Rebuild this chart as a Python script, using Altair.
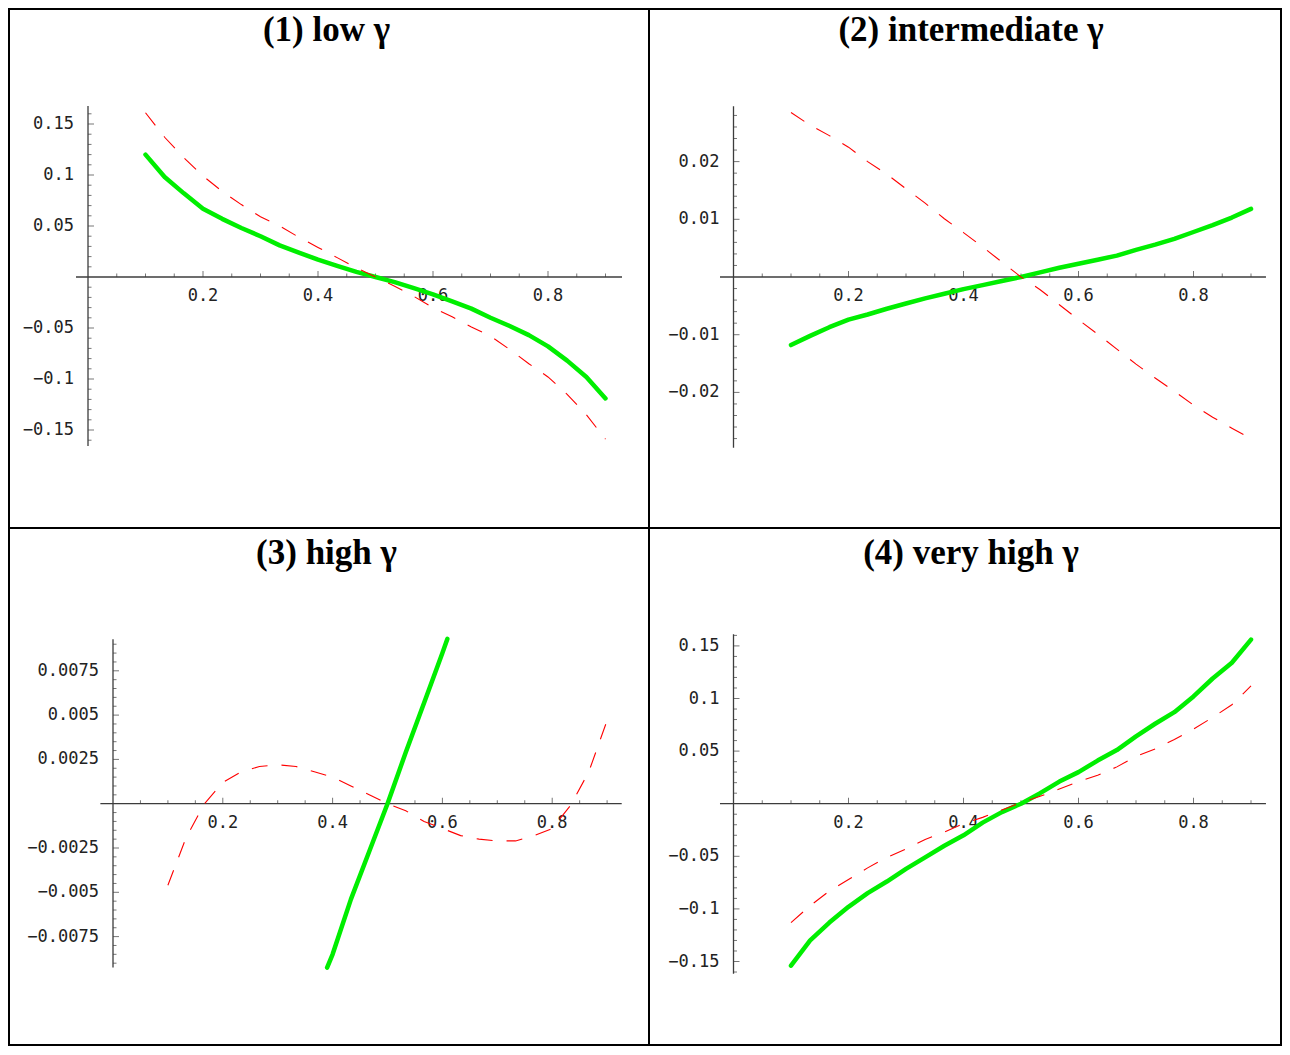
import altair as alt
import pandas as pd

# ---------------- data ----------------
X = [0.1, 0.1333, 0.1667, 0.2, 0.2333, 0.2667, 0.3, 0.3333, 0.3667, 0.4, 0.4333, 0.4667, 0.5,
     0.5333, 0.5667, 0.6, 0.6333, 0.6667, 0.7, 0.7333, 0.7667, 0.8, 0.8333, 0.8667, 0.9]

P1_GREEN = [0.120, 0.098, 0.082, 0.067, 0.057, 0.048, 0.040, 0.031, 0.024, 0.017, 0.011, 0.005, 0.0,
            -0.005, -0.011, -0.017, -0.024, -0.031, -0.040, -0.048, -0.057, -0.068, -0.082, -0.098, -0.119]
P1_RED = [0.161, 0.137, 0.117, 0.099, 0.084, 0.071, 0.059, 0.050, 0.039, 0.029, 0.019, 0.009, 0.0,
          -0.009, -0.019, -0.030, -0.039, -0.049, -0.058, -0.071, -0.085, -0.098, -0.115, -0.135, -0.159]

P2_GREEN = [-0.0118, -0.0102, -0.0087, -0.0074, -0.0065, -0.0055, -0.0046, -0.0037, -0.0029, -0.0021,
            -0.0014, -0.0007, 0.0, 0.0008, 0.0016, 0.0023, 0.0030, 0.0037, 0.0047, 0.0056, 0.0066,
            0.0078, 0.0090, 0.0103, 0.0118]
P2_RED = [0.0285, 0.0263, 0.0245, 0.0225, 0.0200, 0.0178, 0.0153, 0.0128, 0.0101, 0.0077, 0.0052,
          0.0026, 0.0, -0.0022, -0.0048, -0.0074, -0.0099, -0.0125, -0.0151, -0.0175, -0.0198,
          -0.0222, -0.0243, -0.0262, -0.0280]

P3_GREEN_X = [0.39, 0.4, 0.4333, 0.4667, 0.5, 0.5333, 0.5667, 0.6, 0.609]
P3_GREEN = [-0.00925, -0.0085, -0.0054, -0.0027, 0.0, 0.0029, 0.0057, 0.0085, 0.0093]
P3_RED = [-0.0046, -0.0019, 0.0000, 0.0012, 0.0018, 0.0021, 0.0022, 0.0021, 0.0018, 0.0015, 0.0010,
          0.0005, 0.0, -0.0004, -0.0010, -0.0014, -0.0018, -0.0020, -0.0021, -0.0021, -0.0018,
          -0.0014, -0.0001, 0.0018, 0.0047]

P4_GREEN = [-0.154, -0.130, -0.113, -0.098, -0.085, -0.074, -0.062, -0.051, -0.040, -0.030, -0.018,
            -0.008, 0.0, 0.010, 0.021, 0.030, 0.041, 0.051, 0.064, 0.076, 0.087, 0.102, 0.119, 0.134, 0.156]
P4_RED = [-0.113, -0.097, -0.083, -0.072, -0.061, -0.051, -0.043, -0.034, -0.027, -0.019, -0.013,
          -0.006, 0.001, 0.007, 0.014, 0.021, 0.027, 0.035, 0.045, 0.052, 0.061, 0.071, 0.082, 0.094, 0.112]

TITLES = ["(1) low \u03b3", "(2) intermediate \u03b3", "(3) high \u03b3", "(4) very high \u03b3"]

X_TICKS = [0.2, 0.4, 0.6, 0.8]
X_LABELS = ["0.2", "0.4", "0.6", "0.8"]
Y1_TICKS = [-0.15, -0.1, -0.05, 0.05, 0.1, 0.15]
Y1_LABELS = ["\u22120.15", "\u22120.1", "\u22120.05", "0.05", "0.1", "0.15"]
Y2_TICKS = [-0.02, -0.01, 0.01, 0.02]
Y2_LABELS = ["\u22120.02", "\u22120.01", "0.01", "0.02"]
Y3_TICKS = [-0.0075, -0.005, -0.0025, 0.0025, 0.005, 0.0075]
Y3_LABELS = ["\u22120.0075", "\u22120.005", "\u22120.0025", "0.0025", "0.005", "0.0075"]

# plot ranges (axis extents) per panel: xmin, xmax, ymin, ymax
RANGES = [
    (-0.0209, 0.9287, -0.1657, 0.1676),
    (-0.0235, 0.926, -0.0296, 0.0296),
    (-0.023, 0.9266, -0.00925, 0.00928),
    (-0.0235, 0.926, -0.1616, 0.161),
]


def minor(step, kmax):
    return [round(k * step, 6) for k in range(-kmax, kmax + 1) if k % 5 != 0]


X_MINOR = [round(k * 0.05, 4) for k in range(1, 19) if k % 4 != 0]

# ---------------- style ----------------
FONT_T = "Liberation Serif"
FONT_L = "DejaVu Sans Mono"
AXC = "#3c3c3c"
GREEN = "#00ee00"
RED = "#ff0000"

# cells: left, top, width, height (page pixels); calib: x0px, px/unit x, y0px, px/unit y
CELLS = [(8, 8, 640, 519), (648, 8, 632, 519), (8, 527, 640, 517), (648, 527, 632, 517)]
CALIB = [(87, 575, 276, 1020), (732.5, 575, 276, 5770), (112, 549, 802.7, 17720), (732.5, 575, 802.7, 1052)]
TITLE_POS = [(325.5, 40), (970, 40), (325.5, 563), (970, 563)]


def make_panel(i, gx, gy, rx, ry, yt, ytl, ymin):
    left, top, W, H = CELLS[i]
    X0, sx, Y0, sy = CALIB[i]
    xr0, xr1, yr0, yr1 = RANGES[i]
    xs = alt.Scale(domain=[(left - X0) / sx, (left + W - X0) / sx], nice=False, zero=False)
    ys = alt.Scale(domain=[(Y0 - (top + H)) / sy, (Y0 - top) / sy], nice=False, zero=False)

    def ex(col="x"):
        return alt.X(f"{col}:Q", scale=xs, axis=None)

    def ey(col="y"):
        return alt.Y(f"{col}:Q", scale=ys, axis=None)

    xaxis = alt.Chart(pd.DataFrame({"x": [xr0], "x2": [xr1], "y": [0.0]})).mark_rule(
        color=AXC, strokeWidth=1.3).encode(x=ex(), x2="x2:Q", y=ey())
    yaxis = alt.Chart(pd.DataFrame({"x": [0.0], "y": [yr0], "y2": [yr1]})).mark_rule(
        color=AXC, strokeWidth=1.3).encode(x=ex(), y=ey(), y2="y2:Q")

    xmaj = alt.Chart(pd.DataFrame({"x": X_TICKS, "y": [0.0] * len(X_TICKS)})).mark_tick(
        orient="vertical", size=6, thickness=1, yOffset=-3, color=AXC).encode(x=ex(), y=ey())
    xmin_ = alt.Chart(pd.DataFrame({"x": X_MINOR, "y": [0.0] * len(X_MINOR)})).mark_tick(
        orient="vertical", size=3.5, thickness=1, yOffset=-1.75, color=AXC).encode(x=ex(), y=ey())
    ymaj = alt.Chart(pd.DataFrame({"x": [0.0] * len(yt), "y": yt})).mark_tick(
        orient="horizontal", size=6, thickness=1, xOffset=3, color=AXC).encode(x=ex(), y=ey())
    ymin_c = alt.Chart(pd.DataFrame({"x": [0.0] * len(ymin), "y": ymin})).mark_tick(
        orient="horizontal", size=3.5, thickness=1, xOffset=1.75, color=AXC).encode(x=ex(), y=ey())

    xlab = alt.Chart(pd.DataFrame({"x": X_TICKS, "y": [0.0] * len(X_TICKS), "t": X_LABELS})).mark_text(
        font=FONT_L, fontSize=17, dy=19, align="center", baseline="middle", color="#222222"
    ).encode(x=ex(), y=ey(), text="t:N")
    ylab = alt.Chart(pd.DataFrame({"x": [0.0] * len(yt), "y": yt, "t": ytl})).mark_text(
        font=FONT_L, fontSize=17, dx=-14, align="right", baseline="middle", color="#222222"
    ).encode(x=ex(), y=ey(), text="t:N")

    green = alt.Chart(pd.DataFrame({"x": gx, "y": gy})).mark_line(
        color=GREEN, strokeWidth=4.5, strokeCap="round", strokeJoin="round").encode(
        x=ex(), y=ey(), order="x:Q")
    red = alt.Chart(pd.DataFrame({"x": rx, "y": ry})).mark_line(
        color=RED, strokeWidth=1.1, strokeDash=[16, 14]).encode(x=ex(), y=ey(), order="x:Q")

    tx, tb = TITLE_POS[i]
    title = alt.Chart(pd.DataFrame({"t": [TITLES[i]]})).mark_text(
        font=FONT_T, fontSize=35, fontWeight="bold", align="center", baseline="alphabetic",
        color="black").encode(x=alt.value(tx - left), y=alt.value(tb - top), text="t:N")

    return alt.layer(xaxis, yaxis, xmaj, xmin_, ymaj, ymin_c, xlab, ylab, green, red, title).properties(
        width=W, height=H)


p1 = make_panel(0, X, P1_GREEN, X, P1_RED, Y1_TICKS, Y1_LABELS, minor(0.01, 16))
p2 = make_panel(1, X, P2_GREEN, X, P2_RED, Y2_TICKS, Y2_LABELS, minor(0.002, 14))
p3 = make_panel(2, P3_GREEN_X, P3_GREEN, X, P3_RED, Y3_TICKS, Y3_LABELS, minor(0.0005, 18))
p4 = make_panel(3, X, P4_GREEN, X, P4_RED, Y1_TICKS, Y1_LABELS, minor(0.01, 16))

chart = alt.concat(p1, p2, p3, p4, columns=2, spacing=0, bounds="flush").properties(
    padding=0, background="white").configure_view(stroke="black", strokeWidth=2)

chart.save("out.html", embed_options={"renderer": "svg", "actions": False})
